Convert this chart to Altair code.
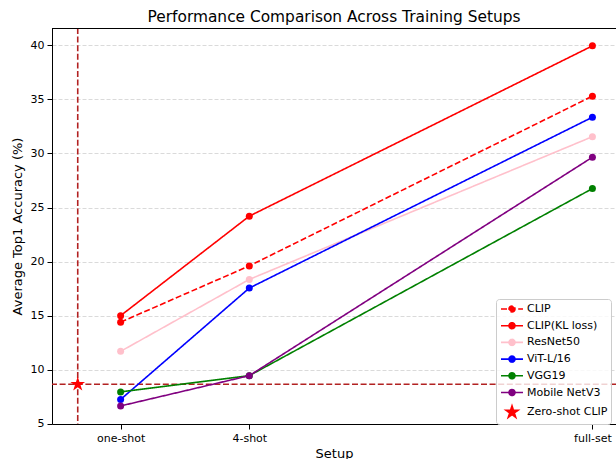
import math
import altair as alt
import pandas as pd

# ---------------- data ----------------
setups = ["one-shot", "4-shot", "full-set"]
setup_x = [1, 4, 12]

series_names = ["CLIP", "CLIP(KL loss)", "ResNet50", "ViT-L/16", "VGG19", "Mobile NetV3"]
clip = [14.4, 19.6, 35.3]
clip_kl = [15.0, 24.2, 39.95]
resnet50 = [11.7, 18.35, 31.55]
vit_l16 = [7.25, 17.55, 33.35]
vgg19 = [7.95, 9.45, 26.75]
mobilenet_v3 = [6.65, 9.45, 29.65]
series_values = [clip, clip_kl, resnet50, vit_l16, vgg19, mobilenet_v3]

zero_shot_name = "Zero-shot CLIP"
zero_shot_x = [0]
zero_shot_acc = [8.65]

legend_names = series_names + [zero_shot_name]
legend_colors = ["red", "red", "pink", "blue", "green", "purple", "red"]
dash_styles = [[6, 2.6], [1, 0], [1, 0], [1, 0], [1, 0], [1, 0], [1, 0]]

rows = []
for name, vals in zip(series_names, series_values):
    for sx, sl, v in zip(setup_x, setups, vals):
        rows.append({"series": name, "x": sx, "setup": sl, "acc": v})
df = pd.DataFrame(rows)
df_zero = pd.DataFrame({"series": [zero_shot_name] * len(zero_shot_x),
                        "x": zero_shot_x, "acc": zero_shot_acc})

# ---------------- symbol geometry (styles only) ----------------
def star_pts(R, inner=0.381966):
    pts = []
    for i in range(10):
        r = R if i % 2 == 0 else R * inner
        a = math.radians(-90 + 36 * i)
        pts.append((r * math.cos(a), r * math.sin(a)))
    return pts

def loop(pts):
    return "M" + "L".join(f"{x:.3f},{y:.3f}" for x, y in pts) + "Z"

def circle_pts(rad, n=16):
    return [(rad * math.cos(2 * math.pi * i / n), rad * math.sin(2 * math.pi * i / n)) for i in range(n)]

# legend symbols are stroked only, so "fill" them with concentric loops
leg_line = (f"M-1.833,0L1.833,0"
            + "".join(loop(circle_pts(r)) for r in [0.5, 0.32, 0.13]))
leg_star = "".join(loop(star_pts(R)) for R in [1.05, 0.78, 0.5, 0.22])
legend_shapes = [leg_line] * len(series_names) + [leg_star]
plot_star = loop(star_pts(1.0))

LEG_SIZE = 144  # r = 6 px

W, H = 564, 396
x_domain = [-0.6, 12.55]
y_domain = [4.98, 41.6]

label_expr = " : ".join(
    f"datum.value == {v} ? '{s}'" for v, s in zip(setup_x, setups)
) + " : ''"

FONT = "DejaVu Sans"

legend = alt.Legend(
    title=None,
    orient="none",
    legendX=444,
    legendY=271,
    labelFont=FONT,
    labelFontSize=11,
    labelColor="black",
    labelOffset=8,
    padding=3,
    rowPadding=2.7,
    symbolSize=LEG_SIZE,
    symbolOffset=6,
    symbolStrokeWidth=1.6,
    symbolOpacity=1,
    fillColor="rgba(255,255,255,0.8)",
    strokeColor="#cccccc",
    cornerRadius=3,
)

color_scale = alt.Scale(domain=legend_names, range=legend_colors)
dash_scale = alt.Scale(domain=legend_names, range=dash_styles)

x_enc = alt.X(
    "x:Q",
    scale=alt.Scale(domain=x_domain, nice=False, zero=False),
    axis=alt.Axis(
        title="Setup", values=setup_x, labelExpr=label_expr, grid=False,
        tickSize=5, labelPadding=3, titlePadding=4,
    ),
)
y_enc = alt.Y(
    "acc:Q",
    scale=alt.Scale(domain=y_domain, nice=False, zero=False),
    axis=alt.Axis(
        title="Average Top1 Accuracy (%)", values=[5, 10, 15, 20, 25, 30, 35, 40],
        grid=True, gridDash=[4, 2], gridColor="#b0b0b0", gridOpacity=0.6, gridWidth=0.8,
        tickSize=5, labelPadding=3, titlePadding=6,
    ),
)

base = alt.Chart(df)
zero_base = alt.Chart(df_zero)

# legend-only layer (draws no marks); first so its legend settings win
legend_layer = zero_base.transform_filter("false").mark_point(
    filled=False, opacity=1, strokeWidth=1.6, size=LEG_SIZE
).encode(
    x=x_enc, y=y_enc,
    color=alt.Color("series:N", scale=color_scale, legend=legend),
    shape=alt.Shape("series:N", scale=alt.Scale(domain=legend_names, range=legend_shapes), legend=legend),
    strokeDash=alt.StrokeDash("series:N", scale=dash_scale, legend=legend),
)

lines = base.mark_line(strokeWidth=1.6).encode(
    x=x_enc, y=y_enc,
    color=alt.Color("series:N", scale=color_scale, legend=None),
    strokeDash=alt.StrokeDash("series:N", scale=dash_scale, legend=None),
)

points = base.mark_point(filled=True, opacity=1, shape="circle", size=49).encode(
    x=x_enc, y=y_enc,
    color=alt.Color("series:N", scale=color_scale, legend=None),
)

hrule = zero_base.mark_rule(color="#b22222", strokeDash=[6, 2.6], strokeWidth=1.6).encode(
    y=alt.Y("acc:Q", scale=alt.Scale(domain=y_domain, nice=False, zero=False)),
)
vrule = zero_base.mark_rule(color="#b22222", strokeDash=[6, 2.6], strokeWidth=1.6).encode(
    x=alt.X("x:Q", scale=alt.Scale(domain=x_domain, nice=False, zero=False)),
)
star = zero_base.mark_point(filled=True, opacity=1, shape=plot_star, size=240).encode(
    x=x_enc, y=y_enc,
    color=alt.Color("series:N", scale=color_scale, legend=None),
)

top_spine = zero_base.mark_rule(color="black", strokeWidth=1).encode(
    x=alt.value(0), x2=alt.value(W), y=alt.value(0.5),
)

chart = alt.layer(legend_layer, hrule, vrule, lines, points, star, top_spine).properties(
    width=W,
    height=H,
    title=alt.TitleParams(
        "Performance Comparison Across Training Setups",
        font=FONT, fontSize=15.4, fontWeight="normal", color="black",
        anchor="middle", frame="group", offset=2,
    ),
    autosize=alt.AutoSizeParams(type="none"),
    padding={"left": 52, "top": 28, "right": 0, "bottom": 35},
).configure_view(
    stroke=None,
).configure_axis(
    labelFont=FONT, labelFontSize=11, labelColor="black",
    titleFont=FONT, titleFontSize=13, titleFontWeight="normal", titleColor="black",
    domainColor="black", domainWidth=1, tickColor="black", tickWidth=1,
)

chart.save("out.html", embed_options={"renderer": "svg", "actions": False})
